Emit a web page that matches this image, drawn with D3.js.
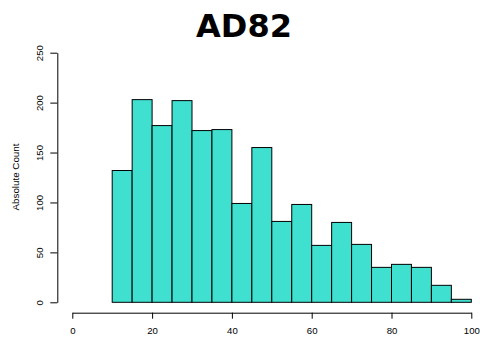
<!DOCTYPE html>
<html lang="en">
<head>
    <meta charset="UTF-8">
    <title>AD82</title>
    <script src="https://cdn.jsdelivr.net/npm/d3@7"></script>
    <style>
        body { margin: 0; background: #fff; }
        text { font-family: "Liberation Sans", Arial, sans-serif; }
    </style>
</head>
<body>
<script type="text/javascript">
    // histogram bins (width 5) and counts
    var binStarts = [10, 15, 20, 25, 30, 35, 40, 45, 50, 55, 60, 65, 70, 75, 80, 85, 90, 95];
    var counts = [132, 203, 177, 202, 172, 173, 99, 155, 81, 98, 57, 80, 58, 35, 38, 35, 17, 3];
    var binWidth = 5;
    var xTicks = [0, 20, 40, 60, 80, 100];
    var yTicks = [0, 50, 100, 150, 200, 250];

    var svg = d3.select('body').append('svg')
            .attr('width', 480)
            .attr('height', 343);

    var x = d3.scaleLinear().domain([0, 100]).range([72.3, 471.3]);
    var y = d3.scaleLinear().domain([0, 250]).range([302.3, 52.7]);

    // title
    svg.append('text')
            .attr('x', 244)
            .attr('y', 37)
            .attr('text-anchor', 'middle')
            .style('font-family', '"DejaVu Sans", sans-serif')
            .style('font-weight', 'bold')
            .style('font-size', '32px')
            .text('AD82');

    // bars
    svg.selectAll('rect.bar')
            .data(counts)
            .enter()
            .append('rect')
            .attr('class', 'bar')
            .attr('x', function (d, i) { return x(binStarts[i]); })
            .attr('y', function (d) { return y(d); })
            .attr('width', function (d, i) { return x(binStarts[i] + binWidth) - x(binStarts[i]); })
            .attr('height', function (d) { return y(0) - y(d); })
            .attr('fill', '#40E0D0')
            .attr('stroke', '#000')
            .attr('stroke-width', 1);

    // x axis
    var xAxis = d3.axisBottom(x).tickValues(xTicks).tickSize(6).tickSizeOuter(0).tickPadding(8);
    var gx = svg.append('g')
            .attr('transform', 'translate(0,312.7)')
            .call(xAxis);
    gx.selectAll('text').style('font-size', '9.6px').attr('fill', '#000')
            .style('font-family', '"Liberation Sans", Arial, sans-serif');
    gx.select('.domain').attr('stroke', '#000');

    // y axis with rotated labels
    var yAxis = d3.axisLeft(y).tickValues(yTicks).tickSize(7).tickSizeOuter(0).tickPadding(0);
    var gy = svg.append('g')
            .attr('transform', 'translate(57.3,0)')
            .call(yAxis);
    gy.selectAll('.tick text')
            .attr('x', 0).attr('dy', 0)
            .attr('text-anchor', 'middle')
            .attr('transform', 'translate(-14,0) rotate(-90)')
            .attr('fill', '#000')
            .style('font-size', '9.6px')
            .style('font-family', '"Liberation Sans", Arial, sans-serif');
    gy.select('.domain').attr('stroke', '#000');

    // y label
    svg.append('text')
            .attr('transform', 'translate(18.5,177) rotate(-90)')
            .attr('text-anchor', 'middle')
            .style('font-size', '9.8px')
            .text('Absolute Count');
</script>
</body>
</html>
